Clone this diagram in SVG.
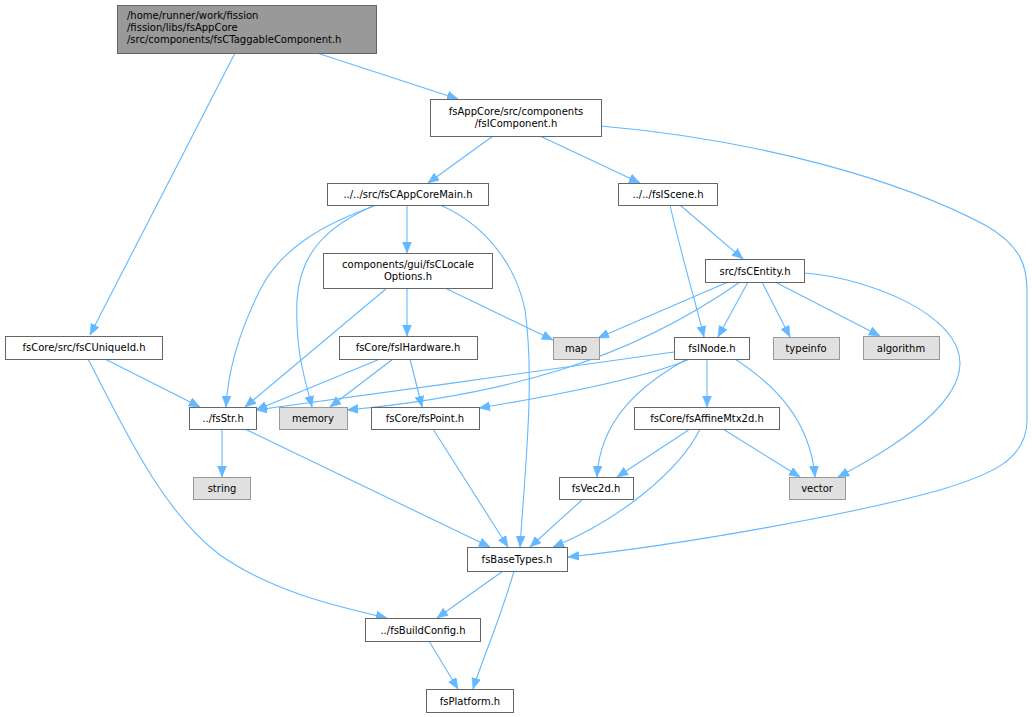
<svg xmlns="http://www.w3.org/2000/svg" width="1032" height="717" viewBox="0 0 1032 717">
<defs>
<style>
.n rect{fill:#ffffff;stroke:#666666;stroke-width:1}
.n.root rect{fill:#999999;stroke:#666666}
.n.sys rect{fill:#e0e0e0;stroke:#999999}
text{font-family:"DejaVu Sans","Liberation Sans",sans-serif;font-size:10px;fill:#000000}
.c{text-anchor:middle}
#edges path{fill:none;stroke:#63b8ff;stroke-width:1.1;marker-end:url(#ah)}
</style>
<marker id="ah" markerUnits="userSpaceOnUse" markerWidth="13" markerHeight="10" refX="11" refY="4.5" orient="auto">
<path d="M0,0 L11,4.5 L0,9 z" fill="#63b8ff" stroke="#63b8ff" stroke-width="0.5"/>
</marker>
</defs>
<rect width="1032" height="717" fill="#ffffff"/>
<g id="edges">
<path d="M317,53 L458,99"/>
<path d="M235,53 L90,335"/>
<path d="M493,136 L428,183"/>
<path d="M540,136 L640,183"/>
<path d="M601,126 C760,140 900,180 985,225 C1020,245 1027,265 1027,290 L1027,420 C1027,460 990,475 940,490 C850,515 680,545 568,557"/>
<path d="M407,205 L407,253"/>
<path d="M377,205 C320,225 280,250 260,290 C240,330 228,370 226,407"/>
<path d="M375,205 C330,225 300,250 297,300 C295,350 305,380 312,407"/>
<path d="M440,205 C480,222 515,260 525,310 C535,380 525,470 520,547"/>
<path d="M387,288 L245,407"/>
<path d="M407,288 L407,336"/>
<path d="M445,288 L553,340"/>
<path d="M670,205 C680,250 695,300 704,337"/>
<path d="M680,205 L743,259"/>
<path d="M728,282 L598,338"/>
<path d="M740,282 C700,310 640,345 560,370 C490,392 410,404 347,410"/>
<path d="M748,282 L718,337"/>
<path d="M762,282 L790,337"/>
<path d="M775,282 L880,336"/>
<path d="M804,273 C870,278 960,315 960,363 C960,410 880,455 838,477"/>
<path d="M105,359 L200,407"/>
<path d="M88,359 C120,420 160,510 220,555 C270,590 330,605 387,618"/>
<path d="M380,359 L256,410"/>
<path d="M393,359 L330,407"/>
<path d="M410,359 L422,407"/>
<path d="M674,352 C580,365 370,395 256,410"/>
<path d="M690,359 C640,380 540,398 479,408"/>
<path d="M707,359 L707,407"/>
<path d="M687,359 C640,385 600,420 597,477"/>
<path d="M735,359 C775,385 810,420 815,477"/>
<path d="M222,429 L222,477"/>
<path d="M245,429 L490,547"/>
<path d="M433,429 L508,547"/>
<path d="M690,429 L617,477"/>
<path d="M700,429 C680,470 620,520 553,547"/>
<path d="M723,429 L800,477"/>
<path d="M583,499 L530,547"/>
<path d="M503,571 L437,618"/>
<path d="M514,571 C500,620 482,660 473,689"/>
<path d="M429,641 L458,689"/>
</g>
<g id="n_root" class="n root"><rect x="117.5" y="5.5" width="259" height="48"/>
<text x="127" y="19">/home/runner/work/fission</text><text x="127" y="31">/fission/libs/fsAppCore</text><text x="127" y="43">/src/components/fsCTaggableComponent.h</text></g>
<g id="n_icomponent" class="n"><rect x="430.5" y="99.5" width="171" height="37"/>
<text class="c" x="516" y="115">fsAppCore/src/components</text><text class="c" x="516" y="127">/fsIComponent.h</text></g>
<g id="n_appcoremain" class="n"><rect x="327.5" y="183.5" width="161" height="22"/>
<text class="c" x="408" y="198">../../src/fsCAppCoreMain.h</text></g>
<g id="n_iscene" class="n"><rect x="618.5" y="183.5" width="99" height="22"/>
<text class="c" x="668" y="198">../../fsIScene.h</text></g>
<g id="n_localeoptions" class="n"><rect x="323.5" y="253.5" width="169" height="35"/>
<text class="c" x="408" y="268">components/gui/fsCLocale</text><text class="c" x="408" y="280">Options.h</text></g>
<g id="n_centity" class="n"><rect x="705.5" y="259.5" width="99" height="23"/>
<text class="c" x="755" y="275">src/fsCEntity.h</text></g>
<g id="n_uniqueid" class="n"><rect x="5.5" y="336.5" width="157" height="23"/>
<text class="c" x="84" y="351">fsCore/src/fsCUniqueId.h</text></g>
<g id="n_ihardware" class="n"><rect x="339.5" y="336.5" width="138" height="23"/>
<text class="c" x="408" y="351">fsCore/fsIHardware.h</text></g>
<g id="n_map" class="n sys"><rect x="553.5" y="337.5" width="46" height="22"/>
<text class="c" x="576" y="352">map</text></g>
<g id="n_inode" class="n"><rect x="674.5" y="337.5" width="75" height="22"/>
<text class="c" x="712" y="352">fsINode.h</text></g>
<g id="n_typeinfo" class="n sys"><rect x="773.5" y="337.5" width="66" height="22"/>
<text class="c" x="806" y="352">typeinfo</text></g>
<g id="n_algorithm" class="n sys"><rect x="863.5" y="336.5" width="76" height="23"/>
<text class="c" x="901" y="352">algorithm</text></g>
<g id="n_fsstr" class="n"><rect x="189.5" y="407.5" width="67" height="22"/>
<text class="c" x="223" y="422">../fsStr.h</text></g>
<g id="n_memory" class="n sys"><rect x="279.5" y="407.5" width="68" height="22"/>
<text class="c" x="313" y="422">memory</text></g>
<g id="n_point" class="n"><rect x="371.5" y="407.5" width="108" height="22"/>
<text class="c" x="425" y="422">fsCore/fsPoint.h</text></g>
<g id="n_affine" class="n"><rect x="634.5" y="407.5" width="145" height="22"/>
<text class="c" x="707" y="422">fsCore/fsAffineMtx2d.h</text></g>
<g id="n_string" class="n sys"><rect x="193.5" y="477.5" width="57" height="22"/>
<text class="c" x="222" y="492">string</text></g>
<g id="n_vec2d" class="n"><rect x="559.5" y="477.5" width="74" height="22"/>
<text class="c" x="596" y="492">fsVec2d.h</text></g>
<g id="n_vector" class="n sys"><rect x="789.5" y="477.5" width="56" height="22"/>
<text class="c" x="817" y="492">vector</text></g>
<g id="n_basetypes" class="n"><rect x="467.5" y="547.5" width="100" height="24"/>
<text class="c" x="517" y="563">fsBaseTypes.h</text></g>
<g id="n_buildconfig" class="n"><rect x="365.5" y="618.5" width="115" height="23"/>
<text class="c" x="423" y="634">../fsBuildConfig.h</text></g>
<g id="n_platform" class="n"><rect x="426.5" y="689.5" width="87" height="23"/>
<text class="c" x="470" y="705">fsPlatform.h</text></g>
</svg>
